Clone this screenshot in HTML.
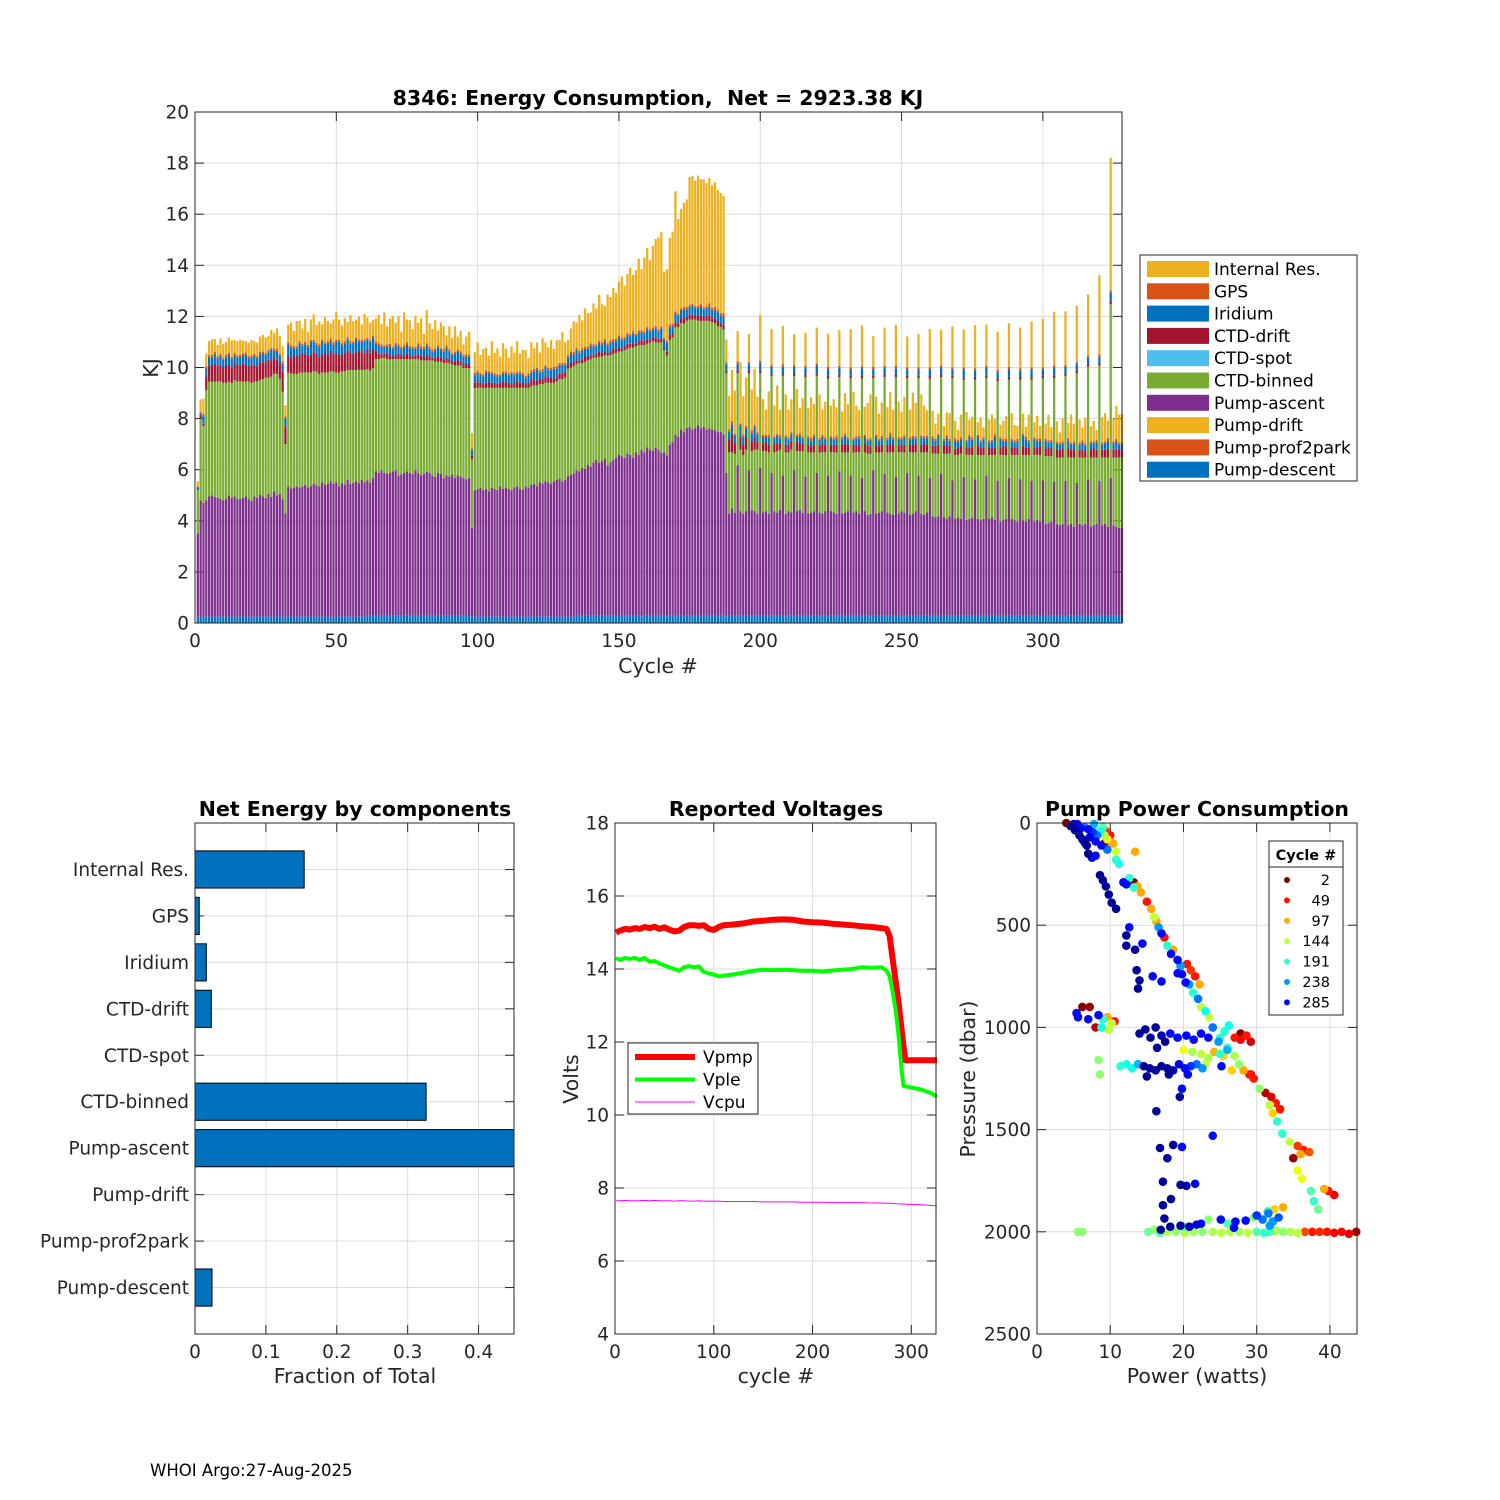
<!DOCTYPE html>
<html><head><meta charset="utf-8"><title>8346 Energy Consumption</title>
<style>
html,body{margin:0;padding:0;background:#fff;}
svg{display:block;font-family:"DejaVu Sans","Liberation Sans",sans-serif;}
.tk{font-size:18.5px;fill:#262626;}
.lab{font-size:20.5px;fill:#262626;}
.ttl{font-size:20.5px;font-weight:bold;fill:#000;}
.lg{font-size:17px;fill:#000;}
</style></head>
<body>
<svg id="fig" width="1500" height="1500" viewBox="0 0 1500 1500" xmlns="http://www.w3.org/2000/svg">
<rect x="0" y="0" width="1500" height="1500" fill="#fff"/>
<g id="top"></g>
<g id="comp"></g>
<g id="volt"></g>
<g id="pump"></g>
<text x="658" y="105" text-anchor="middle" class="ttl">8346: Energy Consumption,&#160; Net = 2923.38 KJ</text>
<text x="658" y="673" text-anchor="middle" class="lab">Cycle #</text>
<text x="158" y="368" text-anchor="middle" class="lab" transform="rotate(-90 158 368)">KJ</text>
<text x="355" y="816" text-anchor="middle" class="ttl">Net Energy by components</text>
<text x="355" y="1383" text-anchor="middle" class="lab">Fraction of Total</text>
<text x="776" y="816" text-anchor="middle" class="ttl">Reported Voltages</text>
<text x="776" y="1383" text-anchor="middle" class="lab">cycle #</text>
<text x="578" y="1079" text-anchor="middle" class="lab" transform="rotate(-90 578 1079)">Volts</text>
<text x="1197" y="816" text-anchor="middle" class="ttl">Pump Power Consumption</text>
<text x="1197" y="1383" text-anchor="middle" class="lab">Power (watts)</text>
<text x="975" y="1079" text-anchor="middle" class="lab" transform="rotate(-90 975 1079)">Pressure (dbar)</text>
<text x="150" y="1476" style="font-size:16.5px;fill:#000">WHOI Argo:27-Aug-2025</text>
</svg>
<script>
// ===== Energy chart data (KJ per cycle, cycles 1..328) =====
const seriesNames = ["Pump-descent","Pump-prof2park","Pump-drift","Pump-ascent","CTD-binned","CTD-spot","CTD-drift","Iridium","GPS","Internal Res."];
const seriesColors = ["#0072BD","#D95319","#EDB120","#7E2F8E","#77AC30","#4DBEEE","#A2142F","#0072BD","#D95319","#EDB120"];
const yTicksTop = [0,2,4,6,8,10,12,14,16,18,20];
const xTicksTop = [0,50,100,150,200,250,300];
const descent = [
.25,.25,.25,.26,.25,.25,.24,.25,.26,.25,.25,.25,.24,.25,.25,.26,.25,.25,.25,.24,
.25,.25,.26,.25,.25,.25,.24,.25,.25,.26,.25,.25,.25,.26,.25,.24,.25,.25,.26,.25,
.25,.25,.24,.25,.26,.25,.25,.25,.24,.25,.25,.26,.25,.25,.25,.24,.25,.26,.25,.25,
.28,.28,.27,.28,.28,.27,.28,.28,.27,.28,.28,.28,.27,.28,.28,.27,.28,.28,.27,.28,
.28,.27,.28,.28,.27,.28,.28,.27,.28,.28,.27,.28,.28,.28,.27,.28,.27,.26,.25,.25,
.26,.25,.25,.26,.25,.25,.26,.25,.25,.26,.25,.25,.26,.25,.25,.26,.25,.25,.26,.25,
.25,.26,.25,.25,.26,.25,.25,.26,.25,.25,.26,.25,.25,.26,.28,.28,.27,.28,.28,.27,
.28,.28,.27,.28,.28,.27,.28,.28,.27,.28,.28,.27,.28,.28,.27,.28,.28,.27,.28,.28,
.27,.28,.28,.27,.28,.28,.27,.28,.28,.27,.28,.28,.27,.28,.28,.27,.28,.28,.27,.28,
.28,.27,.28,.28,.27,.28,.28,.27,.28,.28,.27,.28,.28,.27,.28,.28,.27,.28,.28,.27,
.28,.28,.27,.28,.28,.27,.28,.28,.27,.28,.28,.27,.28,.28,.27,.28,.28,.27,.28,.28,
.27,.28,.28,.27,.28,.28,.27,.28,.28,.27,.28,.28,.27,.28,.28,.27,.28,.28,.27,.28,
.28,.27,.28,.28,.27,.28,.28,.27,.28,.28,.27,.28,.28,.27,.28,.28,.27,.28,.28,.27,
.28,.28,.27,.28,.28,.27,.28,.28,.27,.28,.28,.27,.28,.28,.27,.28,.28,.27,.28,.28,
.27,.28,.28,.27,.28,.28,.27,.28,.28,.27,.28,.28,.27,.28,.28,.27,.28,.28,.27,.28,
.28,.27,.28,.28,.27,.28,.28,.27,.28,.28,.27,.28,.28,.27,.28,.28,.27,.28,.28,.27,
.28,.28,.27,.28,.28,.27,.28,.28];
const ascent = [
3.25,4.55,4.45,
4.55,4.7,4.75,4.7,4.65,4.6,4.55,4.6,4.75,4.65,
4.7,4.6,4.6,4.65,4.7,4.6,4.55,4.7,4.65,4.75,
4.7,4.65,4.8,4.7,4.9,4.75,4.8,4.6,
4.05,
5.1,5.0,5.05,5.1,5.05,5.1,5.15,5.05,5.1,5.2,
5.15,5.1,5.25,5.15,5.2,5.3,5.2,5.25,5.1,5.2,
5.15,5.35,5.2,5.25,5.3,5.2,5.35,5.25,5.3,5.2,5.4,
5.65,5.6,5.7,5.6,5.55,5.6,5.65,5.7,5.5,5.55,
5.6,5.65,5.6,5.55,5.7,5.6,5.5,5.55,5.65,5.6,
5.5,5.45,5.6,5.55,5.4,5.5,5.45,5.55,5.4,5.5,
5.45,5.4,5.35,5.4,
3.45,
4.95,5.0,5.05,4.95,5.0,4.9,5.05,5.0,4.95,5.1,
5.0,5.05,5.0,4.95,5.05,5.1,5.0,4.95,5.1,5.05,
5.15,5.2,5.1,5.25,5.2,5.3,5.25,5.2,5.3,5.35,
5.4,5.3,5.35,
5.5,5.55,5.6,5.7,5.65,5.8,5.75,5.9,5.85,6.0,
6.1,6.0,6.05,6.15,5.9,6.0,6.1,6.2,6.3,6.25,
6.2,6.35,6.3,6.2,6.4,6.3,6.5,6.4,6.6,6.5,
6.45,6.6,6.5,6.4,6.4,6.3,6.7,6.8,
7.1,7.0,7.3,7.2,7.35,7.4,7.3,7.35,7.45,7.35,
7.4,7.3,7.35,7.3,7.25,7.2,7.2,7.1,
5.6,4.0,4.2,4.05,5.9,4.1,4.0,4.1,5.7,4.15,4.1,4.0,
5.8,4.05,4.1,4.0, 5.6,4.1,4.05,4.15, 5.5,4.0,4.1,4.05, 5.7,4.1,4.15,4.05, 5.45,4.0,4.05,4.1,
5.6,4.05,4.0,4.1, 5.5,4.1,4.05,4.0, 5.65,4.0,4.05,4.1, 5.5,4.05,4.1,4.0, 5.4,4.1,3.95,4.0,
5.7,4.0,4.05,4.1, 5.55,4.05,4.0,3.95, 5.45,4.0,4.1,4.05, 5.6,3.95,4.0,4.1, 5.5,4.0,3.95,4.05,
5.4,3.9,3.85,3.9, 5.55,3.85,3.8,3.9, 5.3,3.8,3.85,3.8, 5.45,3.75,3.8,3.85, 5.35,3.8,3.75,3.8,
5.5,3.8,3.85,3.75, 5.3,3.7,3.75,3.8, 5.4,3.8,3.75,3.7, 5.35,3.75,3.7,3.8, 5.3,3.7,3.75,3.7,
5.3,3.6,3.65,3.7, 5.25,3.6,3.55,3.6, 5.3,3.55,3.6,3.5, 5.2,3.6,3.55,3.6, 5.35,3.5,3.55,3.6,
5.3,3.55,3.6,3.5, 5.4,3.55,3.5,3.45,
3.45];
const binned = [
1.7,3.2,3.0,
4.3,4.5,4.45,4.5,4.55,4.6,4.6,4.55,4.45,4.5,
4.55,4.6,4.6,4.55,4.5,4.6,4.6,4.5,4.55,4.5,
4.6,4.7,4.55,4.7,4.6,4.75,4.5,4.2,
2.7,
4.45,4.5,4.45,4.4,4.5,4.45,4.4,4.5,4.45,4.4,
4.45,4.4,4.3,4.4,4.35,4.3,4.4,4.3,4.45,4.4,
4.45,4.3,4.45,4.4,4.35,4.45,4.3,4.4,4.35,4.4,4.3,
4.4,4.45,4.4,4.5,4.5,4.45,4.4,4.35,4.55,4.5,
4.45,4.4,4.45,4.5,4.35,4.45,4.5,4.45,4.35,4.4,
4.5,4.5,4.35,4.4,4.5,4.4,4.45,4.3,4.4,4.3,
4.35,4.3,4.35,4.3,
2.7,
4.0,3.95,3.9,4.0,3.95,4.05,3.9,3.95,4.0,3.85,
3.95,3.9,3.95,4.0,3.9,3.85,3.95,4.0,3.85,3.9,
3.85,3.85,3.95,3.85,3.9,3.85,3.9,3.95,3.85,3.85,
3.9,4.0,4.0,
4.2,4.2,4.2,4.15,4.25,4.1,4.2,4.1,4.2,4.1,
4.0,4.15,4.1,4.05,4.3,4.2,4.15,4.1,4.05,4.1,
4.2,4.1,4.2,4.3,4.15,4.3,4.1,4.2,4.05,4.2,
4.3,4.1,4.2,4.3,4.0,3.9,4.1,4.1,
4.2,4.3,4.15,4.25,4.2,4.2,4.3,4.25,4.1,4.2,
4.15,4.25,4.2,4.2,4.2,4.15,4.1,4.1,
3.9,2.4,2.2,2.3,3.6,2.4,2.3,2.4,3.8,2.3,2.4,2.5,
3.7,2.4,2.35,2.4, 3.8,2.3,2.4,2.35, 3.9,2.4,2.3,2.45, 3.7,2.35,2.3,2.4, 3.9,2.4,2.35,2.3,
3.8,2.35,2.4,2.3, 3.8,2.3,2.35,2.4, 3.7,2.4,2.35,2.3, 3.8,2.35,2.3,2.4, 3.9,2.3,2.4,2.35,
3.6,2.4,2.35,2.3, 3.8,2.35,2.4,2.45, 3.9,2.4,2.3,2.35, 3.7,2.45,2.4,2.3, 3.8,2.4,2.45,2.35,
3.9,2.45,2.5,2.45, 3.8,2.5,2.55,2.45, 4.0,2.5,2.45,2.55, 3.8,2.55,2.5,2.45, 3.9,2.5,2.55,2.5,
3.8,2.5,2.45,2.55, 3.9,2.6,2.55,2.5, 3.85,2.5,2.55,2.6, 3.9,2.55,2.6,2.5, 3.95,2.6,2.55,2.6,
4.0,2.65,2.6,2.55, 4.05,2.6,2.65,2.6, 4.1,2.65,2.6,2.7, 4.3,2.6,2.65,2.6, 4.4,2.7,2.65,2.6,
4.5,2.65,2.6,2.7, 6.8,2.65,2.7,2.75,
2.75];
const ctdDrift = [
0,0.1,0.1,
.55,.6,.65,.7,.6,.65,.6,.7,.65,.6,.7,.65,.6,.7,.65,.6,.7,.65,.6,.7,.65,.6,.7,.65,.6,.55,.6,.8,
.7,
.65,.6,.7,.65,.7,.75,.7,.65,.7,.75,.7,.65,.7,.75,.7,.8,.7,.75,.7,.65,.7,.75,.7,.65,.7,.75,.7,.65,.8,.7,.75,
.3,.2,.15,.15,.2,.15,.1,.15,.2,.15,.15,.2,.15,.1,.15,.2,.15,.15,.2,.15,.1,.15,.2,.15,.15,.2,.15,.1,.15,.2,.15,.15,.2,.15,
.15,
.2,.25,.2,.15,.2,.25,.2,.2,.15,.2,.25,.2,.2,.15,.2,.25,.2,.2,.15,.2,.25,.2,.2,.15,.2,.25,.2,.2,.15,.2,.2,.25,.2,
.15,.2,.15,.15,.1,.15,.2,.15,.15,.1,.15,.2,.15,.15,.1,.15,.2,.15,.15,.1,.15,.2,.15,.15,.1,.15,.2,.15,.15,.1,.15,.2,.15,.15,.1,.15,.2,.15,
.2,.15,.2,.2,.15,.2,.2,.15,.2,.2,.15,.2,.2,.15,.2,.2,.15,.2,
.1,.5,.7,.4,.1,.5,.4,.5,.1,.4,.5,.3,
.1,.3,.35,.3, .1,.35,.3,.25, .1,.3,.3,.35, .1,.35,.3,.3, .1,.3,.25,.3, .1,.3,.35,.3, .1,.25,.3,.3, .1,.3,.35,.3,
.1,.3,.3,.25, .1,.35,.3,.3, .1,.3,.25,.3, .1,.3,.35,.3, .1,.25,.3,.3, .1,.3,.3,.35, .1,.3,.35,.3,
.1,.3,.3,.35, .1,.3,.35,.3, .1,.25,.3,.3, .1,.3,.3,.35, .1,.35,.3,.3, .1,.3,.25,.3, .1,.3,.35,.3, .1,.3,.3,.25,
.1,.35,.3,.3, .1,.3,.3,.35,
.1,.3,.35,.3, .1,.3,.3,.35, .1,.35,.3,.3, .1,.3,.3,.25, .1,.3,.35,.3, .1,.3,.3,.35, .1,.3,.35,.3,
.3];
const iridium = [
.1,.1,.3,
.3,.35,.3,.4,.3,.35,.3,.3,.4,.35,.3,.3,.35,.3,.4,.3,.3,.35,.3,.3,.35,.3,.3,.4,.3,.35,.3,.3,
.3,
.45,.4,.3,.35,.45,.3,.4,.35,.5,.4,.35,.4,.5,.35,.45,.4,.35,.45,.5,.35,.4,.45,.35,.4,.5,.35,.4,.45,.35,.4,.45,
.3,.35,.3,.25,.3,.35,.3,.4,.3,.25,.3,.35,.3,.3,.25,.35,.3,.3,.4,.3,.25,.3,.35,.3,.3,.4,.3,.25,.3,.35,.3,.3,.25,.3,
.2,
.3,.35,.3,.3,.4,.3,.35,.3,.3,.25,.3,.35,.3,.4,.3,.3,.35,.3,.25,.3,.3,.35,.4,.3,.3,.35,.3,.3,.4,.3,.35,.3,.3,
.3,.35,.3,.4,.3,.35,.3,.3,.4,.35,.3,.35,.3,.4,.3,.35,.3,.3,.4,.35,.3,.35,.3,.4,.3,.35,.3,.3,.4,.35,.3,.35,.3,.4,.3,.35,.3,.3,
.35,.3,.3,.35,.3,.3,.35,.3,.3,.35,.3,.3,.35,.3,.3,.35,.3,.3,
.25,.3,.4,.3,.25,.45,.3,.35,.25,.3,.4,.3,
.3,.25,.2,.3, .25,.2,.3,.2, .25,.3,.2,.25, .25,.2,.3,.2, .25,.25,.2,.3, .3,.2,.25,.2, .25,.3,.2,.25, .25,.2,.3,.2,
.25,.2,.25,.3, .3,.25,.2,.25, .25,.3,.2,.25, .25,.2,.3,.2, .25,.25,.2,.3, .25,.2,.25,.2, .25,.3,.2,.25,
.25,.3,.2,.35, .25,.2,.3,.2, .25,.3,.2,.25, .3,.2,.4,.25, .25,.35,.2,.3, .3,.2,.25,.4, .25,.3,.2,.25, .3,.25,.2,.3,
.25,.4,.3,.2, .3,.3,.25,.2,
.25,.3,.2,.25, .3,.25,.2,.2, .25,.3,.2,.25, .25,.2,.3,.2, .25,.25,.2,.3, .25,.2,.25,.3, .35,.25,.3,.2,
.2];
const gps = [
.05,.05,.08,.08,.08,.1,.08,.08,.08,.08,.1,.08,.08,.08,.08,.08,.1,.08,.08,.08,
.08,.08,.1,.08,.08,.08,.08,.1,.08,.08,.08,.08,.08,.1,.08,.08,.08,.08,.1,.08,
.08,.08,.08,.1,.08,.08,.08,.08,.1,.08,.08,.08,.08,.08,.1,.08,.08,.08,.08,.1,
.08,.08,.08,.1,.08,.08,.08,.08,.1,.08,.08,.08,.08,.08,.1,.08,.08,.08,.08,.1,
.08,.08,.1,.08,.08,.08,.08,.1,.08,.08,.08,.08,.08,.1,.08,.08,.08,.08,.1,.08,
.08,.08,.08,.1,.08,.08,.08,.08,.1,.08,.08,.08,.08,.08,.1,.08,.08,.08,.08,.1,
.08,.08,.1,.08,.08,.08,.08,.1,.08,.08,.08,.08,.08,.1,.08,.08,.08,.08,.1,.08,
.08,.08,.08,.1,.08,.08,.08,.08,.1,.08,.08,.08,.08,.08,.1,.08,.08,.08,.08,.1,
.08,.08,.1,.08,.08,.08,.08,.1,.08,.08,.08,.08,.08,.1,.08,.08,.08,.08,.1,.08,
.08,.15,.1,.12,.08,.1,.15,.08,.1,.12,.08,.1,.08,.1,.08,.08,.12,.08,.08,.1,
.08,.08,.1,.08,.08,.08,.12,.1,.08,.08,.08,.08,.08,.1,.08,.08,.08,.12,.1,.08,
.08,.08,.08,.1,.08,.08,.12,.08,.1,.08,.08,.08,.08,.08,.1,.08,.08,.08,.08,.1,
.08,.08,.1,.08,.08,.12,.08,.1,.08,.08,.08,.08,.08,.1,.08,.08,.08,.08,.1,.08,
.08,.08,.08,.1,.08,.08,.08,.08,.1,.08,.08,.08,.08,.08,.1,.08,.08,.08,.08,.1,
.08,.08,.1,.08,.08,.08,.08,.1,.08,.08,.08,.08,.08,.1,.08,.08,.08,.08,.1,.08,
.08,.08,.08,.1,.08,.08,.08,.08,.1,.08,.08,.08,.08,.08,.1,.08,.08,.08,.08,.1,
.08,.08,.1,.08,.08,.08,.08,.1];
const internalRes = [
.2,.5,.6,
.5,.55,.6,.5,.45,.6,.55,.5,.6,.65,.5,.55,.6,.5,.45,.55,.6,.5,.55,.6,.65,.6,.55,.7,.6,.8,.7,.6,
.45,
.7,.9,.6,1.0,.8,.6,.9,.5,.8,1.0,.7,.9,.6,1.0,.8,.6,.9,1.1,.8,.7,.9,.6,1.0,.8,.7,.9,.6,1.0,.8,.7,.6,
.9,1.1,.8,1.3,.7,1.0,1.2,.8,1.1,.6,1.3,.9,1.0,.7,1.2,.8,1.1,.5,1.3,.9,.8,1.1,.6,1.0,.9,.4,.9,.6,1.0,.5,.8,.4,.7,.9,
.6,
.8,1.1,.7,1.0,.9,.6,1.2,.8,1.0,.7,1.1,.9,.6,1.0,.8,1.2,.7,.9,1.0,.6,1.1,.8,1.0,.7,1.2,.9,.8,1.1,.7,1.0,.9,1.2,.8,
.6,.9,1.2,1.0,1.4,1.1,1.5,1.3,1.2,1.6,1.4,1.8,1.5,1.3,1.9,1.7,2.0,1.8,2.1,2.4,2.0,2.3,2.6,2.2,2.5,2.8,2.4,2.9,3.1,2.7,3.2,3.4,3.6,3.7,2.6,2.8,3.4,3.6,
4.7,3.7,3.9,4.1,4.2,5.0,5.0,4.9,5.1,4.9,5.0,4.8,4.9,4.8,4.9,4.7,4.7,4.6,
.9,1.3,2.0,1.7,1.2,2.4,1.5,1.9,1.1,1.6,2.2,1.4,
1.8,1.4,1.0,1.7, 1.4,1.2,1.9,1.0, 1.5,1.6,1.1,1.3, 1.2,1.8,1.0,1.5, 1.3,1.1,1.6,1.2, 1.4,1.7,1.0,1.4, 1.3,1.2,1.5,1.1, 1.4,1.0,1.6,1.3,
1.5,1.8,1.2,1.0, 1.6,1.1,1.4,1.7, 1.2,1.5,1.0,1.3, 1.5,1.2,1.6,1.1, 1.6,1.4,1.0,1.5, 1.2,1.1,1.7,1.3, 1.3,1.6,1.2,1.0,
1.5,1.0,.6,.8, 1.4,.5,.9,1.0, 1.6,.7,.4,.9, 1.5,1.1,.6,.8, 1.7,.5,.9,.4, 1.6,.8,1.0,.6, 1.5,.5,.7,.9, 1.7,1.0,.6,.5,
1.6,.8,.4,1.0, 1.8,.6,.9,.5,
1.9,.6,1.0,.5, 2.1,.8,.4,.9, 2.1,.6,1.1,.7, 2.2,.9,.5,1.0, 2.4,.6,.8,.4, 3.1,1.0,1.1,.7, 5.2,.9,1.3,1.1,
1.1];
const nCycles = 328;

// ===== Components chart data =====
const compCategories = ["Internal Res.","GPS","Iridium","CTD-drift","CTD-spot","CTD-binned","Pump-ascent","Pump-drift","Pump-prof2park","Pump-descent"];
const compFractions = [0.154,0.006,0.016,0.023,0,0.326,0.46,0,0,0.024];
const compXTicks = [0,0.1,0.2,0.3,0.4];
const compXTickLabels = ["0","0.1","0.2","0.3","0.4"];

// ===== Voltage data =====
const vCycles = [1,5,10,15,20,25,30,35,40,45,50,55,60,65,70,75,80,85,90,95,100,105,110,120,130,140,150,160,170,180,190,200,210,220,230,240,250,260,270,275,278,281,284,287,290,292,294,296,300,310,320,326];
const vPmp = [15.0,15.05,15.1,15.08,15.12,15.1,15.15,15.12,15.16,15.1,15.14,15.08,15.03,15.05,15.15,15.2,15.2,15.18,15.2,15.1,15.07,15.15,15.2,15.22,15.25,15.3,15.32,15.35,15.36,15.35,15.3,15.28,15.27,15.24,15.22,15.2,15.17,15.15,15.12,15.1,14.9,14.3,13.7,13.1,12.4,11.9,11.5,11.5,11.5,11.5,11.5,11.5];
const vPle = [14.3,14.25,14.3,14.28,14.3,14.25,14.3,14.2,14.22,14.15,14.1,14.05,14.0,13.95,14.05,14.08,14.05,14.07,13.92,13.88,13.85,13.8,13.82,13.85,13.9,13.95,13.98,13.97,13.98,13.97,13.95,13.95,13.93,13.96,13.98,14.0,14.05,14.03,14.05,13.95,13.8,13.4,12.9,12.2,11.3,10.8,10.78,10.78,10.75,10.7,10.6,10.5];
const vCpu = [7.65,7.65,7.66,7.65,7.65,7.65,7.66,7.65,7.66,7.65,7.65,7.65,7.64,7.65,7.65,7.64,7.64,7.65,7.64,7.64,7.64,7.64,7.63,7.63,7.63,7.63,7.62,7.62,7.62,7.62,7.61,7.61,7.61,7.6,7.6,7.6,7.6,7.59,7.59,7.58,7.58,7.58,7.57,7.57,7.56,7.56,7.56,7.55,7.55,7.54,7.52,7.51];
const vYTicks = [4,6,8,10,12,14,16,18];
const vXTicks = [0,100,200,300];

// ===== Pump power scatter data =====
const pumpPower = [
4.0,4.6,5.2,5.8,6.2,6.8,7.0,5.0,6.0,7.0,7.6,8.2,8.6,9.0,9.2,9.6,9.4,10.0,10.4,8.0,8.8,9.6,10.8,10.8,11.2,13.4,7.5,8.0,9.2,6.5,5.5,6.5,7.8,7.2,
8.6,9.0,9.4,9.8,10.2,10.8,11.8,12.2,12.6,13.2,13.7,14.2,13.2,
15.0,15.6,16.0,16.3,16.6,17.0,17.4,17.8,18.3,18.6,19.2,19.6,19.8,20.5,21.0,21.6,22.2,20.3,20.8,21.3,22.0,22.4,23.0,23.5,24.0,25.0,26.0,27.0,27.6,28.2,29.0,29.6,30.4,31.2,32.0,32.6,33.2,31.8,32.2,32.8,33.5,34.5,35.6,36.4,37.2,36.0,35.6,36.2,37.4,37.8,38.4,39.8,40.6,39.2,27.8,29.2,35.0,
12.6,12.2,12.2,13.4,14.4,13.6,14.0,13.8,15.8,17.0,19.2,
6.2,7.2,5.4,5.6,7.0,8.4,9.0,9.6,10.2,10.6,8.0,8.8,9.8,
14.0,14.8,15.5,16.2,17.0,17.5,16.4,18.2,19.2,20.4,21.4,22.4,23.4,24.0,24.8,25.6,26.2,25.0,26.0,27.0,27.8,28.6,29.2,21.2,22.4,23.4,24.2,25.4,20.0,23.0,25.2,26.6,
11.4,12.2,13.0,13.8,14.6,15.4,16.2,17.0,17.8,18.6,19.4,20.2,21.0,21.8,22.6,15.0,18.0,20.6,8.4,8.6,
19.8,19.5,16.3,16.8,18.6,19.8,24.0,17.8,17.2,19.6,20.4,21.6,18.3,17.2,17.4,16.9,18.2,19.6,20.8,21.8,22.4,25.1,27.1,26.9,28.5,30.0,30.8,31.6,32.2,33.0,32.4,33.6,31.5,23.4,29.6,31.8,
5.6,6.2,15.2,16.0,16.8,17.8,19.0,20.2,21.4,22.6,24.0,25.2,26.4,27.6,28.8,30.0,31.0,31.8,32.6,33.6,34.6,35.6,36.6,37.6,38.6,39.6,40.6,41.6,42.6,43.6,26.0,20.0];
const pumpPressure = [
0,15,35,60,80,110,150,5,25,30,45,60,40,20,60,80,40,60,100,90,110,130,140,180,200,140,170,160,100,95,5,20,5,70,
255,280,310,350,390,420,290,300,270,290,310,340,315,
385,420,460,480,510,540,560,600,640,620,670,700,740,690,720,750,790,780,790,830,860,900,920,950,1000,1050,1100,1140,1180,1210,1230,1250,1300,1320,1340,1370,1400,1380,1420,1460,1520,1560,1580,1600,1610,1620,1700,1740,1800,1850,1890,1800,1820,1790,1030,1230,1640,
510,550,600,620,590,720,770,810,750,775,735,
900,900,930,950,960,940,960,950,980,970,1000,1000,1010,
1030,1010,1050,1000,1040,1070,1100,1030,1050,1040,1060,1030,1050,1000,1070,1020,990,1130,1110,1050,1060,1040,1070,1120,1130,1150,1120,1140,1110,1180,1190,1210,
1190,1180,1200,1180,1190,1200,1210,1190,1200,1210,1180,1200,1190,1180,1200,1240,1230,1230,1160,1230,
1300,1340,1410,1590,1575,1585,1530,1640,1755,1770,1775,1765,1840,1870,1935,1990,1975,1970,1975,1965,1960,1940,1950,1980,1945,1920,1940,1910,1950,1930,1890,1880,1900,1940,1930,1970,
2000,2000,2000,1990,2005,2000,2000,2005,2000,2000,2000,2005,2000,2000,2005,2000,2005,2000,1995,2000,2000,2005,2000,2000,2000,2000,2005,2000,2010,2000,1960,1975];
const pumpCycle = [
2,320,320,320,320,320,320,300,285,285,270,250,200,180,150,120,60,49,97,285,285,250,140,190,200,97,285,285,2,320,285,240,230,300,
320,320,320,320,320,320,285,285,191,2,97,97,191,
49,97,144,97,238,285,49,191,285,97,285,238,285,49,60,49,97,285,238,191,250,144,200,144,191,191,191,150,160,97,49,49,160,20,30,49,49,144,110,191,191,144,60,49,70,97,130,130,180,190,170,49,40,97,2,20,10,
285,320,320,320,285,320,320,320,285,285,285,
2,10,285,285,285,285,191,97,144,49,20,200,144,
320,320,320,320,310,320,320,285,285,285,285,285,285,250,238,191,200,191,230,49,40,49,30,150,144,150,100,110,130,140,285,110,
191,200,200,230,320,320,320,320,320,310,300,285,270,250,238,320,320,285,160,160,
285,320,320,320,320,285,285,320,320,320,310,300,320,320,320,320,320,320,310,300,285,285,285,285,285,270,250,250,238,260,110,97,191,160,160,238,
160,160,170,160,175,150,160,150,155,160,150,145,150,155,145,180,190,185,150,160,150,145,65,49,55,49,40,45,35,15,180,180];
const legendCycles = [2,49,97,144,191,238,285];
const pumpXTicks = [0,10,20,30,40];
const pumpYTicks = [0,500,1000,1500,2000,2500];
const cycleMin = 2, cycleMax = 328;

// ===== helpers =====
const NS = "http://www.w3.org/2000/svg";
function mk(tag, parent, attrs){
  const e = document.createElementNS(NS, tag);
  for (const k in attrs) e.setAttribute(k, attrs[k]);
  parent.appendChild(e);
  return e;
}
function linScale(d0,d1,r0,r1){ return v => r0 + (v-d0)*(r1-r0)/(d1-d0); }
function jet(t){
  const cl = v => Math.max(0, Math.min(1, v));
  const r = cl(1.5 - Math.abs(4*t-3)), g = cl(1.5 - Math.abs(4*t-2)), b = cl(1.5 - Math.abs(4*t-1));
  return "rgb(" + Math.round(r*255) + "," + Math.round(g*255) + "," + Math.round(b*255) + ")";
}
function cycleColor(c){ return jet(1 - (c - cycleMin)/(cycleMax - cycleMin)); }

function drawAxes(g, box, xTicks, xS, yTicks, yS, xLabels, yLabels, prefix){
  const [L,T,R,B] = box;
  xTicks.forEach((v,i) => {
    const x = xS(v);
    if (x > L+0.5 && x < R-0.5) {
      const gl = mk("line", g, {x1:x, y1:T, x2:x, y2:B, stroke:"#dcdcdc", "stroke-width":1});
      
      
    }
    const t1 = mk("line", g, {x1:x, y1:B, x2:x, y2:B-9, stroke:"#262626", "stroke-width":1});
    
    
    const t2 = mk("line", g, {x1:x, y1:T, x2:x, y2:T+9, stroke:"#262626", "stroke-width":1});
    
    
    const tx = mk("text", g, {x:x, y:B+24, "text-anchor":"middle", class:"tk"});
    tx.textContent = xLabels ? xLabels[i] : String(v);
    
    
  });
  yTicks.forEach((v,i) => {
    const y = yS(v);
    if (y > T+0.5 && y < B-0.5) {
      const gl = mk("line", g, {x1:L, y1:y, x2:R, y2:y, stroke:"#dcdcdc", "stroke-width":1});
      
      
    }
    const t1 = mk("line", g, {x1:L, y1:y, x2:L+9, y2:y, stroke:"#262626", "stroke-width":1});
    
    
    const t2 = mk("line", g, {x1:R, y1:y, x2:R-9, y2:y, stroke:"#262626", "stroke-width":1});
    
    
    const ty = mk("text", g, {x:L-6, y:y+6.5, "text-anchor":"end", class:"tk"});
    ty.textContent = yLabels ? yLabels[i] : String(v);
    
    
  });
}
function drawFrame(g, box, prefix){
  const [L,T,R,B] = box;
  const f = mk("rect", g, {x:L, y:T, width:R-L, height:B-T, fill:"none", stroke:"#262626", "stroke-width":1});
  
  
}

// ===== Top energy chart =====
(function(){
  const g = document.getElementById("top");
  const box = [195,112,1122,623];
  const xS = linScale(0,328,195,1122);
  const yS = linScale(0,20,623,112);
  drawAxes(g, box, xTicksTop, xS, yTicksTop, yS, null, null, "energy");
  const series = [descent, [], [], ascent, binned, [], ctdDrift, iridium, gps, internalRes];
  const bw = (xS(1)-xS(0))*0.8;
  for (let i = 0; i < nCycles; i++) {
    const c = i + 1;
    let base = 0;
    series.forEach((arr, s) => {
      const v = arr[i] || 0;
      if (v <= 0) return;
      const y0 = yS(base), y1 = yS(base + v);
      const r = mk("rect", g, {x:xS(c)-bw/2, y:y1, width:bw, height:y0-y1, fill:seriesColors[s]});
      
      
      base += v;
    });
  }
  drawFrame(g, box, "energy");
  const lg = mk("g", g, {});
  
  
  const lb = mk("rect", lg, {x:1140, y:255, width:217, height:226, fill:"#fff", stroke:"#262626", "stroke-width":1});
  
  
  for (let k = 0; k < 10; k++) {
    const s = 9 - k;
    const y = 269 + k*22.3;
    const sw = mk("rect", lg, {x:1147, y:y-8, width:62, height:16, fill:seriesColors[s]});
    
    
    const t = mk("text", lg, {x:1214, y:y+6, class:"lg"});
    t.textContent = seriesNames[s];
    
    
  }
})();

// ===== Components bar chart =====
(function(){
  const g = document.getElementById("comp");
  const box = [195,823,514,1334];
  const xS = linScale(0,0.45,195,514);
  const yS = linScale(0,11,823,1334);
  const cp = mk("clipPath", g, {id:"compClip"});
  
  
  const cr = mk("rect", cp, {x:195, y:823, width:319, height:511});
  
  
  const yPos = compCategories.map((_,i) => i+1);
  drawAxes(g, box, compXTicks, xS, yPos, yS, compXTickLabels, compCategories, "components");
  const bg = mk("g", g, {"clip-path":"url(#compClip)"});
  
  
  compFractions.forEach((v,i) => {
    if (v <= 0) return;
    const yc = yS(i+1), h = yS(0.8)-yS(0);
    const r = mk("rect", bg, {x:xS(0), y:yc-h/2, width:xS(v)-xS(0), height:h, fill:"#0072BD", stroke:"#000", "stroke-width":1});
    
    
  });
  drawFrame(g, box, "components");
})();

// ===== Voltage chart =====
(function(){
  const g = document.getElementById("volt");
  const box = [615,823,936,1334];
  const xS = linScale(0,325,615,936);
  const yS = linScale(4,18,1334,823);
  drawAxes(g, box, vXTicks, xS, vYTicks, yS, null, null, "voltage");
  function line(vals, color, w, name){
    const d = vals.map((v,i) => (i?"L":"M") + xS(vCycles[i]).toFixed(1) + "," + yS(v).toFixed(1)).join(" ");
    const p = mk("path", g, {d:d, fill:"none", stroke:color, "stroke-width":w, "stroke-linejoin":"round"});
    
    
  }
  line(vPmp, "#ff0000", 6, "vpmp-line");
  line(vPle, "#00ff00", 4, "vple-line");
  line(vCpu, "#ff00ff", 1, "vcpu-line");
  drawFrame(g, box, "voltage");
  const lb = mk("rect", g, {x:628, y:1043, width:130, height:71, fill:"#fff", stroke:"#262626", "stroke-width":1});
  
  
  const items = [["Vpmp","#ff0000",6],["Vple","#00ff00",4],["Vcpu","#ff00ff",1]];
  items.forEach((it,k) => {
    const y = 1057 + k*22.5;
    const l = mk("line", g, {x1:635, y1:y, x2:695, y2:y, stroke:it[1], "stroke-width":it[2]});
    
    
    const t = mk("text", g, {x:703, y:y+6, class:"lg"});
    t.textContent = it[0];
    
    
  });
})();

// ===== Pump power scatter =====
(function(){
  const g = document.getElementById("pump");
  const box = [1037,823,1357,1334];
  const xS = linScale(0,43.7,1037,1357);
  const yS = linScale(0,2500,823,1334);
  drawAxes(g, box, pumpXTicks, xS, pumpYTicks, yS, null, null, "pump");
  const order = pumpCycle.map((c,i)=>i).sort((a,b)=>pumpCycle[a]-pumpCycle[b]);
  order.forEach(i => {
    const c = mk("circle", g, {cx:xS(pumpPower[i]), cy:yS(pumpPressure[i]), r:4.3, fill:cycleColor(pumpCycle[i])});
    
    
  });
  drawFrame(g, box, "pump");
  const lb = mk("rect", g, {x:1269, y:841, width:74, height:174, fill:"#fff", stroke:"#262626", "stroke-width":1});
  
  
  const hl = mk("line", g, {x1:1269, y1:867, x2:1343, y2:867, stroke:"#262626", "stroke-width":1});
  
  
  const ht = mk("text", g, {x:1306, y:860, "text-anchor":"middle", style:"font-size:14.5px;font-weight:bold;fill:#000"});
  ht.textContent = "Cycle #";
  
  
  legendCycles.forEach((cyc,k) => {
    const y = 880 + k*20.4;
    const m = mk("circle", g, {cx:1287, cy:y, r:3, fill:cycleColor(cyc)});
    
    
    const t = mk("text", g, {x:1330, y:y+5, "text-anchor":"end", style:"font-size:14.5px;fill:#000"});
    t.textContent = String(cyc);
    
    
  });
})();
</script>
</body></html>
